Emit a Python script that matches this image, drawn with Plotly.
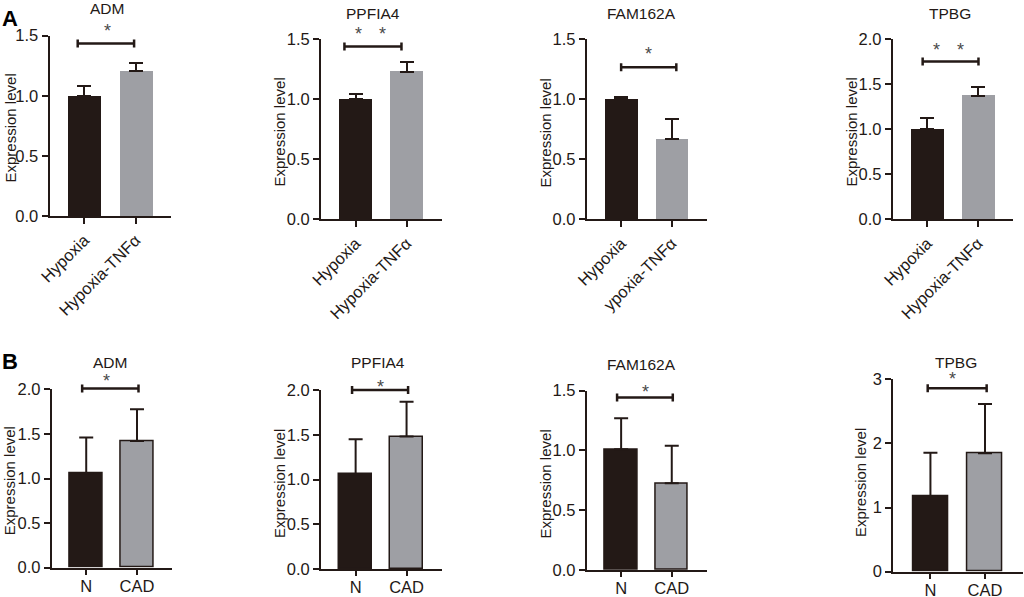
import plotly.graph_objects as go

W, H = 1024, 597
DARK = "#231916"
GREY = "#9e9fa4"
FONT = "Arial, Liberation Sans, sans-serif"

genes = ["ADM", "PPFIA4", "FAM162A", "TPBG"]

# panel A: hypoxia vs hypoxia + TNFα
hyp_labels = [
    ["Hypoxia", "Hypoxia-TNFα"],
    ["Hypoxia", "Hypoxia-TNFα"],
    ["Hypoxia", "ypoxia-TNFα"],
    ["Hypoxia", "Hypoxia-TNFα"],
]
hyp_mean = [[1.0, 1.21], [1.0, 1.23], [1.0, 0.667], [1.0, 1.375]]
hyp_sd = [[0.08, 0.065], [0.045, 0.08], [0.022, 0.172], [0.122, 0.092]]
hyp_ymax = [1.5, 1.5, 1.5, 2.0]
hyp_dtick = [0.5, 0.5, 0.5, 0.5]
hyp_bracket = [1.436, 1.44, 1.267, 1.752]
hyp_bracket_x = [(-0.13, 0.97), (-0.22, 0.9), (0.0, 1.09), (-0.09, 1.01)]
hyp_star_x = [[0.45], [0.06, 0.53], [0.54], [0.19, 0.65]]
hyp_star_y = [1.539, 1.544, 1.377, 1.884]

# panel B: normal vs CAD
cad_labels = ["N", "CAD"]
cad_mean = [[1.06, 1.42], [1.06, 1.48], [1.01, 0.725], [1.18, 1.846]]
cad_sd = [[0.40, 0.355], [0.39, 0.39], [0.26, 0.315], [0.676, 0.77]]
cad_ymax = [2.0, 2.0, 1.5, 3.0]
cad_dtick = [0.5, 0.5, 0.5, 1.0]
cad_bracket = [2.01, 2.0, 1.444, 2.86]
cad_bracket_x = [(-0.08, 1.03), (-0.07, 1.03), (-0.08, 1.02), (-0.05, 1.03)]
cad_star_x = [[0.39], [0.48], [0.48], [0.41]]
cad_star_y = [2.09, 2.03, 1.49, 3.005]

# layout in pixels: (left, right, top tick, zero)
hyp_box = [(49.5, 171, 35.7, 216), (321, 441.7, 39.3, 219.3),
           (586.7, 706.7, 39.3, 219.3), (892.7, 1013, 39.3, 219.3)]
cad_box = [(51.7, 172, 389.3, 567.7), (321, 441.7, 390, 569.3),
           (586.7, 706.7, 390.7, 570), (893.3, 1022.7, 379.3, 571.7)]
hyp_title_xy = [(107, 9), (373, 14), (641.7, 14), (950, 13)]
cad_title_xy = [(109.7, 362.5), (378, 362.5), (641.7, 364), (956, 362.5)]
hyp_ylab_xy = [(9.5, 128), (279, 132.5), (544.5, 133), (851, 132.5)]
cad_ylab_xy = [(9.5, 480.8), (279, 484), (544.5, 484), (861, 483)]

fig = go.Figure()
shapes = []
annotations = []


def px(x, y):
    return x / W, 1 - y / H


def add_panel(k, labels, mean, sd, ymax, dtick, bracket, bx, star_x, star_y,
              box, title_xy, ylab_xy, title, rotate, outline):
    xa = "x" if k == 1 else f"x{k}"
    ya = "y" if k == 1 else f"y{k}"
    fig.add_trace(go.Bar(
        x=labels, y=mean, width=0.64,
        marker=dict(color=[DARK, GREY],
                    line=dict(color=DARK, width=1.5 if outline else 0)),
        error_y=dict(type="data", symmetric=False, array=sd, arrayminus=[0, 0],
                     color=DARK, thickness=2, width=7),
        xaxis=xa, yaxis=ya, showlegend=False, hoverinfo="skip",
    ))
    l, r, top, zero = box
    ticks = [i * dtick for i in range(int(round(ymax / dtick)) + 1)]
    fmt = "{:.0f}" if dtick >= 1 else "{:.1f}"
    axis_common = dict(showline=True, linecolor=DARK, linewidth=2,
                       ticks="outside", tickwidth=2, tickcolor=DARK,
                       showgrid=False, zeroline=False, fixedrange=True,
                       automargin=False,
                       tickfont=dict(family=FONT, size=16.5, color=DARK))
    key = "" if k == 1 else str(k)
    fig.update_layout(**{
        "xaxis" + key: dict(domain=[l / W, r / W], anchor=ya, type="category",
                            range=[-0.68, 1.69], tickangle=-45 if rotate else 0,
                            ticklen=6 if rotate else 5,
                            ticklabelstandoff=0 if rotate else -3,
                            **axis_common),
        "yaxis" + key: dict(domain=[1 - zero / H, 1 - top / H], anchor=xa,
                            range=[0, ymax], tickvals=ticks, ticklen=6,
                            ticktext=[fmt.format(t) for t in ticks],
                            **axis_common),
    })
    # significance bracket
    frac = bracket / ymax
    shapes.append(dict(type="line", xref=xa, yref=ya + " domain",
                       x0=bx[0], x1=bx[1], y0=frac, y1=frac,
                       line=dict(color=DARK, width=2.5)))
    for xe in bx:
        shapes.append(dict(type="line", xref=xa, yref=ya + " domain",
                           x0=xe, x1=xe, ysizemode="pixel", yanchor=frac,
                           y0=-4, y1=4, line=dict(color=DARK, width=2.5)))
    for sx in star_x:
        annotations.append(dict(text="*", x=sx, y=star_y / ymax, xref=xa,
                                yref=ya + " domain", showarrow=False,
                                xanchor="center", yanchor="middle",
                                font=dict(family=FONT, size=18, color="#4a4a4a")))
    tx, ty = px(*title_xy)
    annotations.append(dict(text=title, x=tx, y=ty, xref="paper", yref="paper",
                            showarrow=False, xanchor="center", yanchor="middle",
                            font=dict(family=FONT, size=15.5, color=DARK)))
    lx, ly = px(*ylab_xy)
    annotations.append(dict(text="Expression level", x=lx, y=ly, xref="paper",
                            yref="paper", textangle=-90, showarrow=False,
                            xanchor="center", yanchor="middle",
                            font=dict(family=FONT, size=15, color=DARK)))


for i in range(4):
    add_panel(i + 1, hyp_labels[i], hyp_mean[i], hyp_sd[i], hyp_ymax[i],
              hyp_dtick[i], hyp_bracket[i], hyp_bracket_x[i], hyp_star_x[i],
              hyp_star_y[i], hyp_box[i], hyp_title_xy[i], hyp_ylab_xy[i],
              genes[i], True, False)
for i in range(4):
    add_panel(i + 5, cad_labels, cad_mean[i], cad_sd[i], cad_ymax[i],
              cad_dtick[i], cad_bracket[i], cad_bracket_x[i], cad_star_x[i],
              cad_star_y[i], cad_box[i], cad_title_xy[i], cad_ylab_xy[i],
              genes[i], False, True)

# panel letters
for letter, (lx, ly) in zip(["A", "B"], [(10, 19), (10, 361)]):
    x, y = px(lx, ly)
    annotations.append(dict(text="<b>" + letter + "</b>", x=x, y=y,
                            xref="paper", yref="paper", showarrow=False,
                            xanchor="center", yanchor="middle",
                            font=dict(family=FONT, size=22, color="black")))

fig.update_layout(
    template="none",
    width=W, height=H,
    margin=dict(l=0, r=0, t=0, b=0),
    paper_bgcolor="white", plot_bgcolor="white",
    bargap=0, hovermode=False,
    shapes=shapes, annotations=annotations,
)

# the page body has a default 8px margin; drop it so the figure fills the window
fig.write_html("out.html", config={"displayModeBar": False},
               post_script="document.body.style.margin = '0';")
